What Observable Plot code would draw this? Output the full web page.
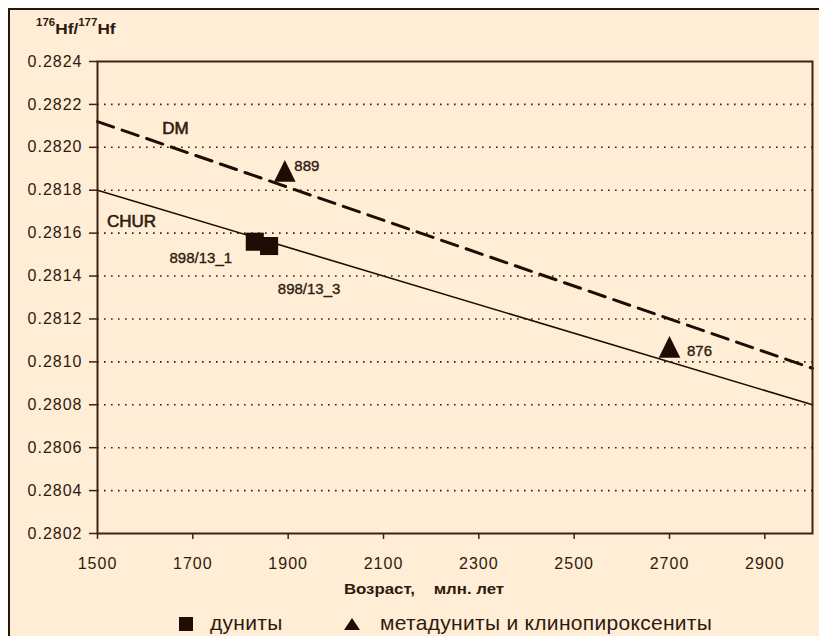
<!DOCTYPE html>
<html>
<head>
<meta charset="utf-8">
<script src="https://cdn.jsdelivr.net/npm/d3@7"></script>
<script src="https://cdn.jsdelivr.net/npm/@observablehq/plot@0.6"></script>
<style>
  html, body { margin: 0; padding: 0; background: #ffffff; }
  #page { position: relative; width: 819px; height: 636px; overflow: hidden; background: #ffffff;
          font-family: "Liberation Sans", Arial, sans-serif; color: #2e1a0e; }
  #panel { position: absolute; left: 8px; top: 8px; right: -20px; bottom: -20px; background: #ffedd5;
           border-top: 2px solid #2a1508; border-left: 2px solid #2a1508; }
  #chart { position: absolute; left: 0; top: 0; }
  .abs { position: absolute; white-space: pre; }
  #ytitle { left: 36px; top: 21px; font-size: 15px; line-height: 15px; font-weight: bold;
            transform: scaleX(1.15); transform-origin: left center; }
  #ytitle span { font-size: 10px; position: relative; top: -8px; }
  #xtitle { left: 304px; width: 240px; top: 581px; text-align: center; font-size: 15px; line-height: 15px;
            font-weight: bold; transform: scaleX(1.12); transform-origin: center; }
  .legtext { font-size: 21px; line-height: 21px; letter-spacing: 0.3px; top: 612px; }
</style>
</head>
<body>
<div id="page">
  <div id="panel"></div>
  <div id="chart"></div>
  <div id="ytitle" class="abs"><span>176</span>Hf/<span>177</span>Hf</div>
  <div id="xtitle" class="abs"></div>
  <svg class="abs" style="left:179px;top:617px" width="14" height="14"><rect width="14" height="14" fill="#1f0d05"/></svg>
  <div class="abs legtext" id="leg1" style="left:210px"></div>
  <svg class="abs" style="left:344px;top:618px" width="16" height="12"><polygon points="8,0 16,12 0,12" fill="#1f0d05"/></svg>
  <div class="abs legtext" id="leg2" style="left:380px"></div>
</div>
<script>
// ---- data ----
const lineAges = [1500, 3000];
const churValues = [0.2818, 0.2808];
const dmValues = [0.28212, 0.28097];

const duniteAges = [1830, 1860];
const duniteValues = [0.28156, 0.28154];
const duniteLabels = ["898/13_1", "898/13_3"];

const metaAges = [1893, 2700];
const metaValues = [0.28189, 0.28107];
const metaLabels = ["889", "876"];

const xTicks = [1500, 1700, 1900, 2100, 2300, 2500, 2700, 2900];
const yTicks = [0.2802, 0.2804, 0.2806, 0.2808, 0.2810, 0.2812, 0.2814, 0.2816, 0.2818, 0.2820, 0.2822, 0.2824];
const lineNames = ["DM", "CHUR"];
const legendNames = ["дуниты", "метадуниты и клинопироксениты"];
const xTitle = "Возраст,    млн. лет";

// ---- styles ----
const ink = "#2e1a0e";
const lineInk = "#1f0d05";

const churData = lineAges.map((a, i) => ({age: a, v: churValues[i]}));
const dmData = lineAges.map((a, i) => ({age: a, v: dmValues[i]}));
const duniteData = duniteAges.map((a, i) => ({age: a, v: duniteValues[i], label: duniteLabels[i]}));
const metaData = metaAges.map((a, i) => ({age: a, v: metaValues[i], label: metaLabels[i]}));

const triangle = {
  draw(ctx, size) {
    const r = Math.sqrt(size / Math.PI);
    const w = r * 1.35, h = r * 1.35;
    ctx.moveTo(0, -h);
    ctx.lineTo(w, h);
    ctx.lineTo(-w, h);
    ctx.closePath();
  }
};

const labelStyle = {fill: ink, stroke: ink, strokeWidth: 0.35, fontSize: 15, textAnchor: "middle"};

const chart = Plot.plot({
  width: 819,
  height: 600,
  marginLeft: 97,
  marginRight: 7,
  marginTop: 61,
  marginBottom: 67,
  style: {background: "transparent", fontFamily: "Liberation Sans, Arial, sans-serif", fontSize: "16px", color: ink, overflow: "visible"},
  x: {domain: [1500, 3000], label: null},
  y: {domain: [0.2802, 0.2824], label: null},
  marks: [
    Plot.gridY(yTicks.slice(1, -1), {stroke: "#3a2010", strokeOpacity: 1, strokeWidth: 1.6, strokeDasharray: "1.6,5.4"}),
    Plot.line(churData, {x: "age", y: "v", stroke: lineInk, strokeWidth: 1.6}),
    Plot.line(dmData, {x: "age", y: "v", stroke: lineInk, strokeWidth: 3, strokeDasharray: "17,9"}),
    Plot.frame({stroke: "#3a2414", strokeWidth: 2}),
    Plot.axisX({ticks: xTicks, tickFormat: d => String(d), tickSize: 6, tickPadding: 18, stroke: "#3a2414", strokeWidth: 1.5, label: null, style: {letterSpacing: "1.1px"}, fill: ink}),
    Plot.axisY({ticks: yTicks, tickFormat: d3.format(".4f"), tickSize: 8, tickPadding: 7, stroke: "#3a2414", strokeWidth: 1.5, label: null, fill: ink}),
    Plot.dot(duniteData, {x: "age", y: "v", symbol: "square", r: 10.2, fill: lineInk, stroke: "none"}),
    Plot.dot(metaData, {x: "age", y: "v", symbol: triangle, r: 8, fill: lineInk, stroke: "none"}),
    Plot.text(duniteData, {x: "age", y: "v", text: "label", filter: (d, i) => i === 0, dx: -54, dy: 16, ...labelStyle}),
    Plot.text(duniteData, {x: "age", y: "v", text: "label", filter: (d, i) => i === 1, dx: 40, dy: 43, ...labelStyle}),
    Plot.text(metaData, {x: "age", y: "v", text: "label", filter: (d, i) => i === 0, dx: 22, dy: -5, ...labelStyle}),
    Plot.text(metaData, {x: "age", y: "v", text: "label", filter: (d, i) => i === 1, dx: 30, dy: 4, ...labelStyle}),
    Plot.text(dmData.slice(0, 1), {x: "age", y: "v", text: () => lineNames[0], dx: 78, dy: 7, ...labelStyle, fontSize: 17, strokeWidth: 0.6}),
    Plot.text(churData.slice(0, 1), {x: "age", y: "v", text: () => lineNames[1], dx: 34, dy: 31, ...labelStyle, fontSize: 17, strokeWidth: 0.6})
  ]
});
chart.querySelectorAll("text").forEach(t => {
  if (t.closest("[aria-label='x-axis tick label']") || t.closest("[aria-label='y-axis tick label']")) {
    t.style.letterSpacing = "1px";
  }
});
document.getElementById("chart").appendChild(chart);
document.getElementById("xtitle").textContent = xTitle;
document.getElementById("leg1").textContent = legendNames[0];
document.getElementById("leg2").textContent = legendNames[1];
</script>
</body>
</html>
